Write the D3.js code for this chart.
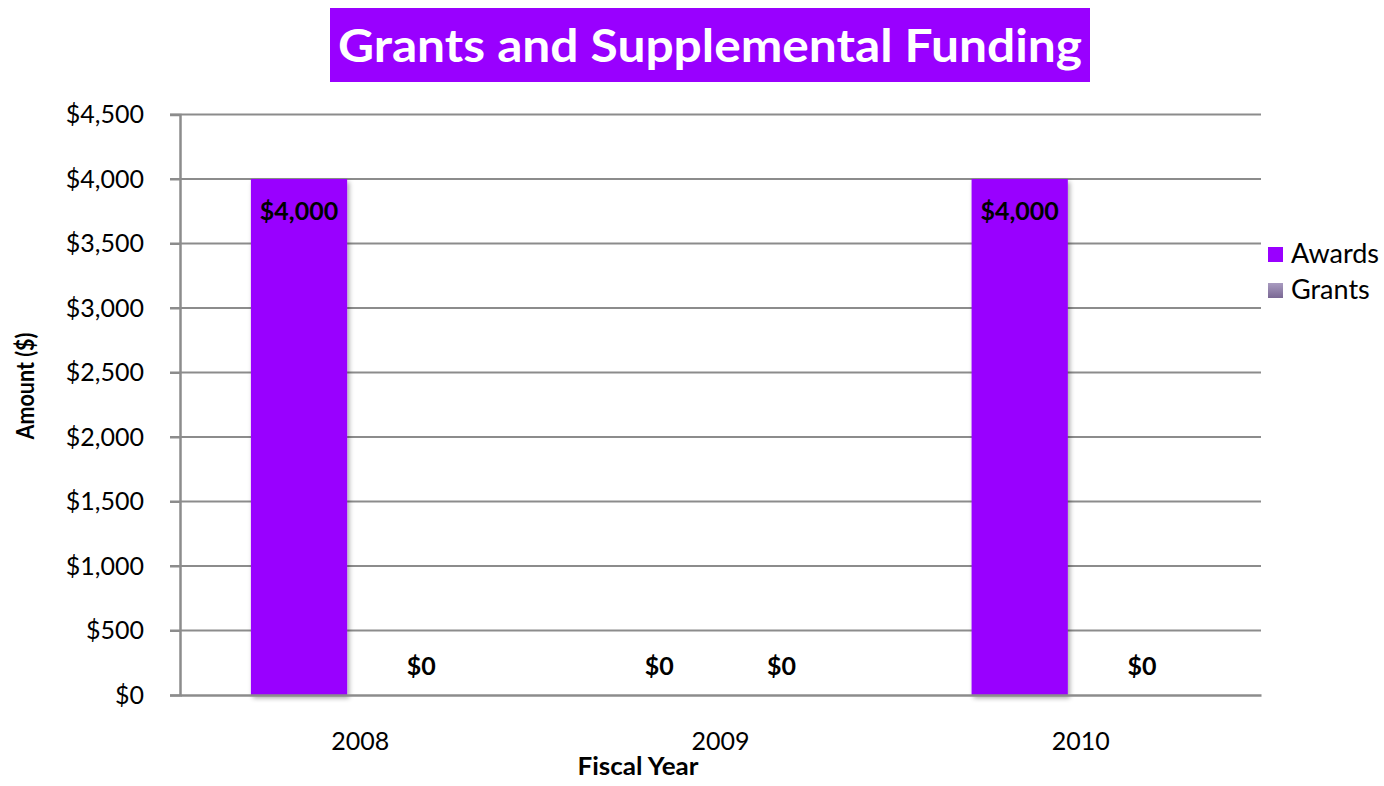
<!DOCTYPE html>
<html><head><meta charset="utf-8">
<script src="https://cdn.jsdelivr.net/npm/d3@7"></script>
<style>
body{margin:0;background:#fff;}
text{font-family:Lato,"Open Sans",sans-serif;}
</style></head>
<body><svg id="c" width="1384" height="786"></svg>
<script>
const categories = ["2008","2009","2010"];
const seriesNames = ["Awards","Grants"];
const awards = [4000, 0, 4000];
const grants = [0, 0, 0];
const yTicks = [0,500,1000,1500,2000,2500,3000,3500,4000,4500];
const title = "Grants and Supplemental Funding";
const colors = {Awards:"#9900FF", Grants:"#8E7CAA"};

const svg = d3.select("#c");
const m = {l:180, r:1261, t:114.5, b:695};
const x0 = d3.scaleBand().domain(categories).range([m.l, m.r]).padding(0);
const x1 = d3.scaleBand().domain(seriesNames).range([0, x0.bandwidth()]).paddingInner(0.213).paddingOuter(0.58);
const y = d3.scaleLinear().domain([0,4500]).range([m.b, m.t]);
const fmt = v => "$" + d3.format(",")(v);

const defs = svg.append("defs");
const f = defs.append("filter").attr("id","sh").attr("x","-10%").attr("y","-5%").attr("width","130%").attr("height","115%");
f.append("feGaussianBlur").attr("in","SourceAlpha").attr("stdDeviation",2.5).attr("result","b");
f.append("feOffset").attr("in","b").attr("dx",2).attr("dy",3).attr("result","o");
f.append("feComponentTransfer").attr("in","o").attr("result","o2").append("feFuncA").attr("type","linear").attr("slope",0.35);
const mg = f.append("feMerge"); mg.append("feMergeNode").attr("in","o2"); mg.append("feMergeNode").attr("in","SourceGraphic");
const lg = defs.append("linearGradient").attr("id","gg").attr("x1",0).attr("y1",0).attr("x2",0).attr("y2",1);
lg.append("stop").attr("offset","0").attr("stop-color","#A99BC0");
lg.append("stop").attr("offset","1").attr("stop-color","#7A6894");

// title
const tg = svg.append("g");
tg.append("rect").attr("x",330).attr("y",8).attr("width",760).attr("height",74).attr("fill","#9900FF");
tg.append("text").attr("x",710).attr("y",62).attr("text-anchor","middle").attr("fill","#fff")
  .attr("font-weight","bold").attr("font-size",46).attr("textLength",744).attr("lengthAdjust","spacingAndGlyphs").text(title);

// gridlines
svg.append("g").selectAll("line").data(yTicks.filter(d=>d>0)).join("line")
  .attr("x1",m.l-10).attr("x2",m.r).attr("y1",d=>y(d)).attr("y2",d=>y(d))
  .attr("stroke","#8c8c8c").attr("stroke-width",2);

// y axis
const ya = svg.append("g").attr("transform",`translate(${m.l},0)`)
  .call(d3.axisLeft(y).tickValues(yTicks).tickFormat(fmt).tickSize(10).tickPadding(26));
ya.select(".domain").attr("stroke","#8c8c8c").attr("stroke-width",2.5);
ya.selectAll(".tick line").attr("stroke","#8c8c8c").attr("stroke-width",2);
ya.selectAll(".tick text").attr("font-size",25).attr("fill","#000").attr("font-family","Lato");

// bars
const data = categories.map((c,i)=>({cat:c, vals:[{s:"Awards",v:awards[i]},{s:"Grants",v:grants[i]}]}));
const bg = svg.append("g").selectAll("g").data(data).join("g").attr("transform",d=>`translate(${x0(d.cat)},0)`);
bg.selectAll("rect").data(d=>d.vals.filter(e=>e.v>0)).join("rect")
  .attr("x",d=>x1(d.s)).attr("width",x1.bandwidth())
  .attr("y",d=>y(d.v)).attr("height",d=>y(0)-y(d.v))
  .attr("fill",d=>colors[d.s]).attr("filter","url(#sh)");
bg.selectAll("text").data(d=>d.vals).join("text")
  .attr("x",d=>x1(d.s)+x1.bandwidth()/2).attr("y",d=>d.v>0 ? y(d.v)+41 : y(0)-20)
  .attr("text-anchor","middle").attr("font-weight","bold").attr("font-size",25).attr("fill","#000")
  .text(d=>fmt(d.v));

// x axis
const xa = svg.append("g").attr("transform",`translate(0,${m.b})`)
  .call(d3.axisBottom(x0).tickSize(0).tickPadding(37));
xa.select(".domain").attr("stroke","#8c8c8c").attr("stroke-width",2.5);
xa.selectAll(".tick text").attr("font-size",25).attr("fill","#000").attr("font-family","Lato");

// axis titles
svg.append("text").attr("x",638).attr("y",775).attr("text-anchor","middle").attr("font-weight","bold").attr("font-size",24)
  .attr("textLength",121).attr("lengthAdjust","spacingAndGlyphs").text("Fiscal Year");
svg.append("text").attr("transform","translate(34,386) rotate(-90)").attr("text-anchor","middle").attr("font-weight","bold").attr("font-size",24)
  .attr("textLength",107).attr("lengthAdjust","spacingAndGlyphs").text("Amount ($)");

// legend
const leg = svg.append("g").selectAll("g").data(seriesNames).join("g").attr("transform",(d,i)=>`translate(1268,${247+i*36})`);
leg.append("rect").attr("width",15).attr("height",15).attr("fill",d=>d==="Grants"?"url(#gg)":colors[d]);
leg.append("text").attr("x",23).attr("y",16).attr("font-size",27).attr("fill","#000").text(d=>d);
</script></body></html>
